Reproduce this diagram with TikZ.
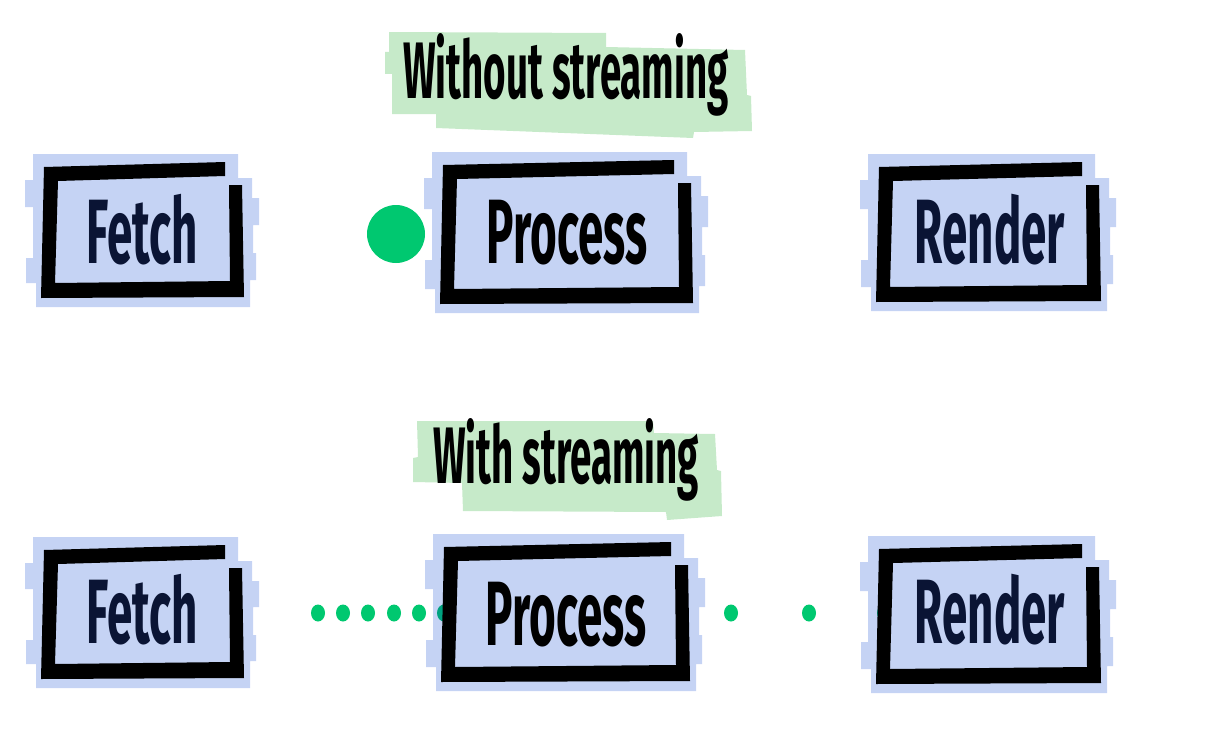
\documentclass[tikz,border=0pt]{standalone}
\usepackage{fontspec}
\usepackage{xcolor}
\usetikzlibrary{positioning}
\newfontfamily\handfont{Fira Sans}[FakeStretch=0.5]
\newfontfamily\tagfont{Fira Sans}[FakeStretch=0.48]
\definecolor{skblue}{RGB}{197,211,244}
\definecolor{skgreen}{RGB}{198,234,201}
\definecolor{sknavy}{RGB}{10,20,52}
\definecolor{skdot}{RGB}{0,200,112}
\definecolor{skteal}{RGB}{0,163,128}
\tikzset{
  boxtext/.style={font=\handfont\bfseries\fontsize{65}{70}\selectfont, text=sknavy,
    inner sep=0pt, anchor=base},
  tagtext/.style={font=\tagfont\bfseries\fontsize{57}{60}\selectfont, text=black,
    inner sep=0pt, anchor=base},
  packet/.style={fill=skdot},
  hidpacket/.style={fill=skteal}
}
% blue strips behind a box, #1/#2 = half width/height of the frame
\newcommand{\skbg}[2]{%
  \fill[skblue] ({-#1-10},{-#2-11}) -- ({#1-5},{-#2-11}) -- ({#1-5},{-#2+13})
    -- ({#1+9},{-#2+13}) -- ({#1+9},{-#2+33}) -- ({#1+16},{-#2+33}) -- ({#1+16},-6)
    -- ({#1+10},-6) -- ({#1+10},22) -- ({#1+13},22) -- ({#1+13},{#2-17})
    -- ({#1+7},{#2-17}) -- ({#1+7},{#2+10}) -- ({-#1-7},{#2+10}) -- ({-#1-7},{#2-14})
    -- ({-#1-17},{#2-14}) -- ({-#1-17},27) -- ({-#1-10},27) -- ({-#1-10},-24)
    -- ({-#1-18},-24) -- ({-#1-18},{-#2+15}) -- ({-#1-10},{-#2+15}) -- cycle;}
% thick black frame, open at the top right corner
\newcommand{\skframe}[2]{%
  \fill[black] ({-#1+1},{-#2+2}) -- ({#1-18},{-#2-3}) -- ({#1-18},{-#2+11})
    -- ({-#1+15},{-#2+16}) -- ({-#1+12},{#2-14}) -- ({#1-13},{#2-16})
    -- ({#1-14},{-#2+20}) -- ({#1-1},{-#2+20}) -- ({#1+1},{#2}) -- ({-#1-2},{#2+1}) -- cycle;}

\begin{document}
\begin{tikzpicture}[x=0.025cm,y=-0.025cm]
  \useasboundingbox (0,0) rectangle (1216,729);
  % labels
  \fill[skgreen] (389,32) -- (606,33) -- (606,47) -- (745,50) -- (747,95) -- (751,96)
    -- (752,131) -- (694,132) -- (693,138) -- (436,128) -- (436,114) -- (392,114)
    -- (392,74) -- (385,74) -- (385,52) -- (389,52) -- cycle;
  \fill[skgreen] (417,421) -- (653,421) -- (654,433) -- (715,434) -- (717,470)
    -- (721,471) -- (722,516) -- (667,520) -- (666,512) -- (463,511) -- (462,483)
    -- (413,482) -- (413,458) -- (418,457) -- cycle;
  \node[tagtext] (tagA) at (566,98) {Without streaming};
  \node[tagtext] (tagB) at (566,483) {With streaming};
  % boxes
  \foreach \cx/\cy/\w/\h in {143/231/100/66, 567/233/125/70, 989/233/111/68,
      143/613/100/65, 566/613/123/68, 989/615/111/68} {
    \begin{scope}[shift={(\cx,\cy)}]
      \skbg{\w}{\h}
    \end{scope}
  }
  % data packets
  \fill[packet] (396,234) circle (29);
  \foreach \x in {318,343,368,394,419,731,809}
    \fill[packet] (\x,613) ellipse (7 and 8.5);
  \foreach \x in {444,884}
    \fill[hidpacket] (\x,613) ellipse (7 and 8.5);
  \foreach \cx/\cy/\w/\h in {143/231/100/66, 567/233/125/70, 989/233/111/68,
      143/613/100/65, 566/613/123/68, 989/615/111/68} {
    \begin{scope}[shift={(\cx,\cy)}]
      \skframe{\w}{\h}
    \end{scope}
  }
  \node[boxtext] (fetchA) at (142,263) {Fetch};
  \node[boxtext, text=black] (procA) at (567,263) {Process};
  \node[boxtext] (rendA) at (990,263) {Render};
  \node[boxtext] (fetchB) at (142,643) {Fetch};
  \node[boxtext, text=black] (procB) at (566,645) {Process};
  \node[boxtext] (rendB) at (990,643) {Render};
\end{tikzpicture}
\end{document}
